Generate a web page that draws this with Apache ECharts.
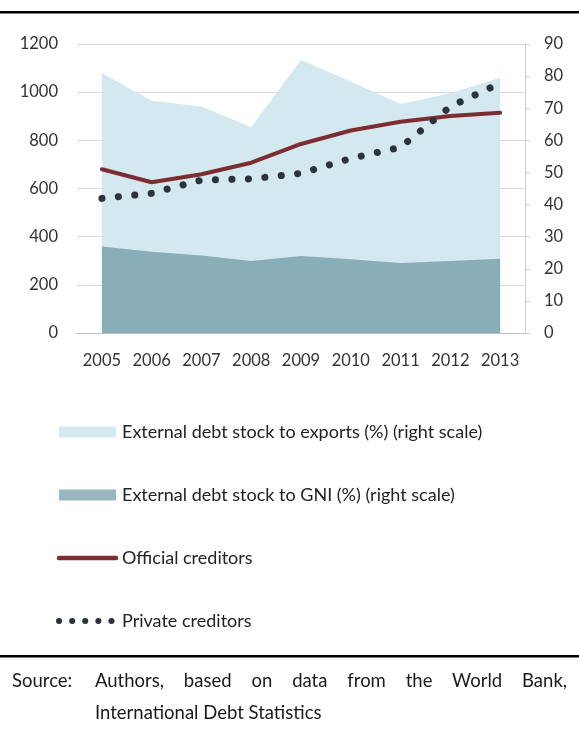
<!DOCTYPE html>
<html>
<head>
<meta charset="utf-8">
<script src="https://cdn.jsdelivr.net/npm/echarts@6/dist/echarts.min.js"></script>
<style>
html,body{margin:0;padding:0;background:#fff;}
#chart{position:absolute;left:0;top:0;width:579px;height:729px;}
#src{position:absolute;left:12px;top:664px;width:555px;font-family:Lato,"Open Sans",sans-serif;font-size:18.5px;color:#1a1a1a;line-height:32px;}
#src .lbl{position:absolute;left:0;top:0;}
#src .l1{position:absolute;left:83px;top:0;width:472px;text-align:justify;text-align-last:justify;white-space:nowrap;}
#src .l2{position:absolute;left:83px;top:32px;width:472px;text-align:left;white-space:nowrap;}
</style>
</head>
<body>
<div id="chart"></div>
<div id="src"><span class="lbl">Source:</span><div class="l1">Authors, based on data from the World Bank,</div><div class="l2">International Debt Statistics</div></div>
<script>
var years = ['2005','2006','2007','2008','2009','2010','2011','2012','2013'];
var debtToExports = [81, 72.3, 70.5, 64.1, 85, 78.3, 71.3, 74.7, 79.5];
var debtToGNI = [26.9, 25.3, 24.1, 22.4, 24.0, 23.0, 21.8, 22.4, 23.1];
var officialCreditors = [680, 626, 659, 707, 785, 841, 877, 901, 915];
var privateCreditors = [559, 580, 635, 640, 663, 725, 771, 940, 1037];
var leftTicks = {min: 0, max: 1200, interval: 200};
var rightTicks = {min: 0, max: 90, interval: 10};

var names = [
  'External debt stock to exports (%) (right scale)',
  'External debt stock to GNI (%) (right scale)',
  'Official creditors',
  'Private creditors'
];
var FONT = 'Lato, "Open Sans", sans-serif';
var chart = echarts.init(document.getElementById('chart'), null, {renderer: 'canvas'});
chart.setOption({
  animation: false,
  backgroundColor: '#ffffff',
  textStyle: {fontFamily: FONT},
  grid: {left: 77, right: 54, top: 44, bottom: 396, containLabel: false},
  legend: {
    orient: 'vertical',
    left: 56,
    top: 422,
    padding: 0,
    itemWidth: 57,
    itemHeight: 11,
    itemGap: 43,
    textStyle: {fontFamily: FONT, fontSize: 18, color: '#222', lineHeight: 20, padding: [0,0,0,1]},
    data: [
      {name: names[0], icon: 'rect', itemStyle: {color: '#d5e9f0'}},
      {name: names[1], icon: 'rect', itemStyle: {color: '#98b7bf'}},
      {name: names[2], itemStyle: {opacity: 0}, lineStyle: {width: 4.5, cap: 'round'}},
      {name: names[3], itemStyle: {opacity: 0}, lineStyle: {type: [0.1, 13], width: 6, cap: 'round'}}
    ]
  },
  xAxis: {
    type: 'category',
    data: years,
    boundaryGap: true,
    axisLine: {lineStyle: {color: '#bfbfbf', width: 1}},
    axisTick: {show: false},
    axisLabel: {fontFamily: FONT, fontSize: 16.5, color: '#333', margin: 19}
  },
  yAxis: [
    {
      type: 'value', min: leftTicks.min, max: leftTicks.max, interval: leftTicks.interval,
      axisLine: {show: false}, axisTick: {show: false},
      splitLine: {lineStyle: {color: '#d9d9d9', width: 1}},
      axisLabel: {fontFamily: FONT, fontSize: 16.5, color: '#333', margin: 19, formatter: function (v) { return String(v); }}
    },
    {
      type: 'value', position: 'right', min: rightTicks.min, max: rightTicks.max, interval: rightTicks.interval,
      axisLine: {show: true, lineStyle: {color: '#d0d0d0', width: 1}},
      axisTick: {show: true, length: 5, lineStyle: {color: '#d0d0d0'}},
      splitLine: {show: false},
      axisLabel: {fontFamily: FONT, fontSize: 16.5, color: '#333', margin: 19, formatter: function (v) { return String(v); }}
    }
  ],
  series: [
    {
      name: names[0], type: 'line', yAxisIndex: 1, data: debtToExports,
      symbol: 'none', color: '#d3e8ef',
      lineStyle: {width: 0, color: '#d3e8ef'},
      areaStyle: {color: '#d3e8ef', opacity: 1},
      z: 1
    },
    {
      name: names[1], type: 'line', yAxisIndex: 1, data: debtToGNI,
      symbol: 'none', color: '#8aaeb8',
      lineStyle: {width: 0, color: '#8aaeb8'},
      areaStyle: {color: '#8aaeb8', opacity: 1},
      z: 2
    },
    {
      name: names[2], type: 'line', yAxisIndex: 0, data: officialCreditors,
      symbol: 'none', color: '#7b2d32',
      lineStyle: {width: 4, color: '#7b2d32', cap: 'round', join: 'round'},
      z: 3
    },
    {
      name: names[3], type: 'line', yAxisIndex: 0, data: privateCreditors,
      symbol: 'none', color: '#2b343b',
      lineStyle: {width: 7, color: '#2b343b', type: [0.1, 16.4], cap: 'round'},
      z: 4
    }
  ],
  graphic: [
    {type: 'rect', shape: {x: 0, y: 11, width: 579, height: 2.5}, style: {fill: '#000'}},
    {type: 'rect', shape: {x: 0, y: 655, width: 579, height: 2.5}, style: {fill: '#000'}}
  ]
});
</script>
</body>
</html>
